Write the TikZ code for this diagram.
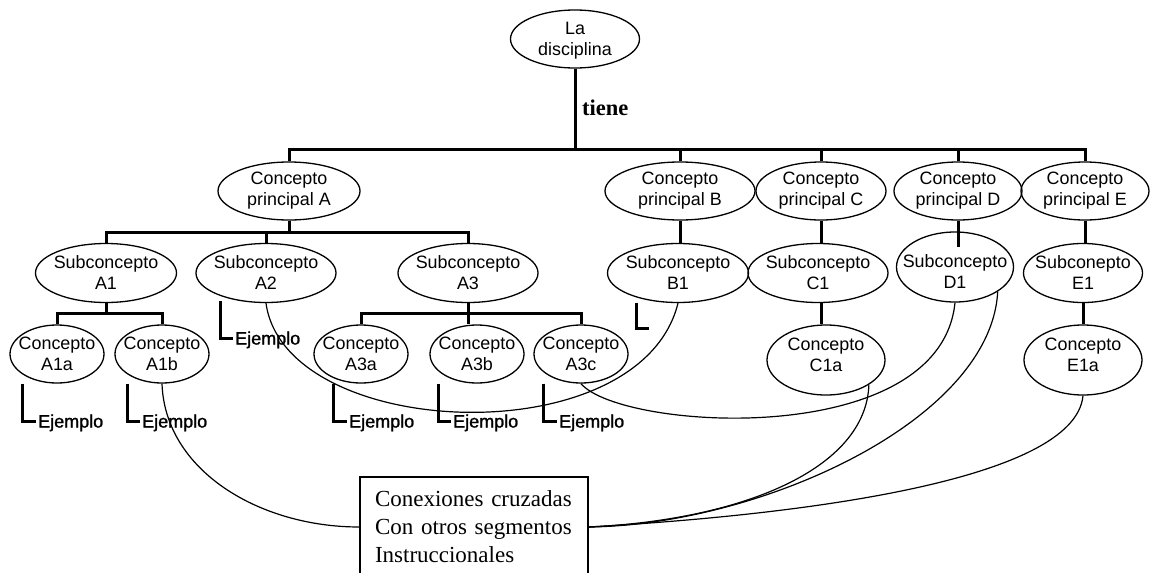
\documentclass[tikz,border=0pt]{standalone}
\usepackage{fontspec}
\setmainfont{Liberation Sans}
\newfontfamily\tms{Liberation Serif}
\newfontfamily\ejf{Liberation Sans}[FakeBold=1.2]
\usetikzlibrary{shapes.geometric}
\newcommand\Ell[6]{\node[ell, minimum width=#4pt, minimum height=#5pt] (#1) at (#2,#3) {};
  \node[lbl] (#1t) at (#1) {#6};}
\newcommand\EllS[7]{\node[ell, minimum width=#4pt, minimum height=#5pt] (#1) at (#2,#3) {};
  \node[lbl] (#1t) at ([yshift=-#6pt]#1.center) {#7};}
\begin{document}
\begin{tikzpicture}[x=1pt,y=-1pt,
  ell/.style={draw, ellipse, line width=1.3pt, inner sep=0pt},
  lbl/.style={align=center, font=\fontsize{17.9}{21}\selectfont, inner sep=0pt},
  bar/.style={line width=3pt},
  link/.style={line width=1.2pt},
  ej/.style={font=\ejf\fontsize{18}{21}\selectfont, anchor=west, inner sep=2pt, text depth=0pt}]
\useasboundingbox[fill=white] (0,0) rectangle (1152,573);

% ellipses
\EllS{root}{575}{39}{129}{58}{2}{La\\disciplina}
\Ell{A}{289}{191}{142}{58}{Concepto\\principal A}
\Ell{B}{680}{191}{150}{58}{Concepto\\principal B}
\Ell{C}{821}{191}{130}{58}{Concepto\\principal C}
\Ell{D}{958}{191}{128}{58}{Concepto\\principal D}
\Ell{E}{1085}{191}{128}{58}{Concepto\\principal E}
\Ell{A1}{106}{273}{141}{59}{Subconcepto\\A1}
\Ell{A2}{266}{273}{140}{59}{Subconcepto\\A2}
\Ell{A3}{468}{273}{140}{59}{Subconcepto\\A3}
\Ell{B1}{678}{273}{141}{59}{Subconcepto\\B1}
\Ell{C1}{818}{273}{140}{59}{Subconcepto\\C1}
\EllS{D1}{955}{267}{117}{70}{5}{Subconcepto\\D1}
\Ell{E1}{1083}{273}{119}{59}{Subconepto\\E1}
\Ell{A1a}{57}{354}{94}{58}{Concepto\\A1a}
\Ell{A1b}{162}{354}{94}{58}{Concepto\\A1b}
\Ell{A3a}{361}{354}{94}{58}{Concepto\\A3a}
\Ell{A3b}{477}{354}{94}{58}{Concepto\\A3b}
\Ell{A3c}{581}{354}{94}{58}{Concepto\\A3c}
\EllS{C1a}{826}{360}{118}{70}{-5}{Concepto\\C1a}
\EllS{E1a}{1083}{360}{118}{70}{-5}{Concepto\\E1a}

\node[font=\tms\bfseries\fontsize{22.5}{26}\selectfont, anchor=base west, inner sep=0pt] (tiene) at (582,115) {tiene};

% tree bars
\coordinate (tb) at (575,149);
\draw[bar] (root.south) -- (tb);
\draw[bar] (A.north) -- (A.north |- tb) -- (E.north |- tb) -- (E.north);
\draw[bar] (B.north) -- (B.north |- tb);
\draw[bar] (C.north) -- (C.north |- tb);
\draw[bar] (D.north) -- (D.north |- tb);

\coordinate (ab) at (289,232);
\draw[bar] (A.south) -- (ab);
\draw[bar] (A1.north) -- (A1.north |- ab) -- (A3.north |- ab) -- (A3.north);
\draw[bar] (A2.north) -- (A2.north |- ab);

\coordinate (a1b) at (108,313);
\draw[bar] (A1.south) -- (A1.south |- a1b);
\draw[bar] (A1a.north) -- (A1a.north |- a1b) -- (A1b.north |- a1b) -- (A1b.north);

\coordinate (a3b) at (470,313);
\draw[bar] (A3.south) -- (A3.south |- A3b.north);
\draw[bar] (A3a.north) -- (A3a.north |- a3b) -- (A3c.north |- a3b) -- (A3c.north);

\draw[bar] (B.south) -- (B.south |- B1.north);
\draw[bar] (C.south) -- (C.south |- C1.north);
\draw[bar] (C.south |- C1.south) -- (C.south |- C1a.north);
\draw[bar] (D.south) -- ++(0,26);
\draw[bar] (E.south) -- (E.south |- E1.north);
\draw[bar] (E1.south) -- (E1a.north);

% Ejemplo brackets
\node[ej] (ex1) at (36,421) {Ejemplo};
\draw[bar] (A1a.south) ++(-35,0) |- (ex1.west);
\node[ej] (ex2) at (140,421) {Ejemplo};
\draw[bar] (A1b.south) ++(-35,0) |- (ex2.west);
\node[ej] (ex3) at (233,338) {Ejemplo};
\draw[bar] (A2.south) ++(-46,-2) |- (ex3.west);
\node[ej] (ex4) at (347,421) {Ejemplo};
\draw[bar] (A3a.south) ++(-28,0) |- (ex4.west);
\node[ej] (ex5) at (451,421) {Ejemplo};
\draw[bar] (A3b.south) ++(-39,0) |- (ex5.west);
\node[ej] (ex6) at (557,421) {Ejemplo};
\draw[bar] (A3c.south) ++(-38,0) |- (ex6.west);
\draw[bar] (B1.south) ++(-42,0) |- ++(13,25);

% box
\node[draw, line width=1.2pt, font=\tms\fontsize{23}{28}\selectfont, align=left,
  text width=204pt, inner xsep=12pt, inner ysep=0pt, minimum width=228pt,
  minimum height=100pt] (box) at (474,527)
  {\hspace*{3pt}Conexiones cruzadas\\\hspace*{3pt}Con otros segmentos\\\hspace*{3pt}Instruccionales};

% cross links
\draw[link] (A1b.south) .. controls +(3,87) and +(-100,0) .. (box.west);
\draw[link] (A2.south) .. controls +(19,138) and +(-38,153) .. (B1.south);
\draw[link] (A3c.south) .. controls +(40,47) and +(-15,148) .. (D1.south);
\draw[link] (C1a.-30) .. controls +(-3,85) and +(152,-7) .. (box.east);
\draw[link] (D1.-30) .. controls +(-7,129) and +(172,-2) .. (box.east);
\draw[link] (E1a.south) .. controls +(-8,85) and +(212,-12) .. (box.east);
\end{tikzpicture}
\end{document}
